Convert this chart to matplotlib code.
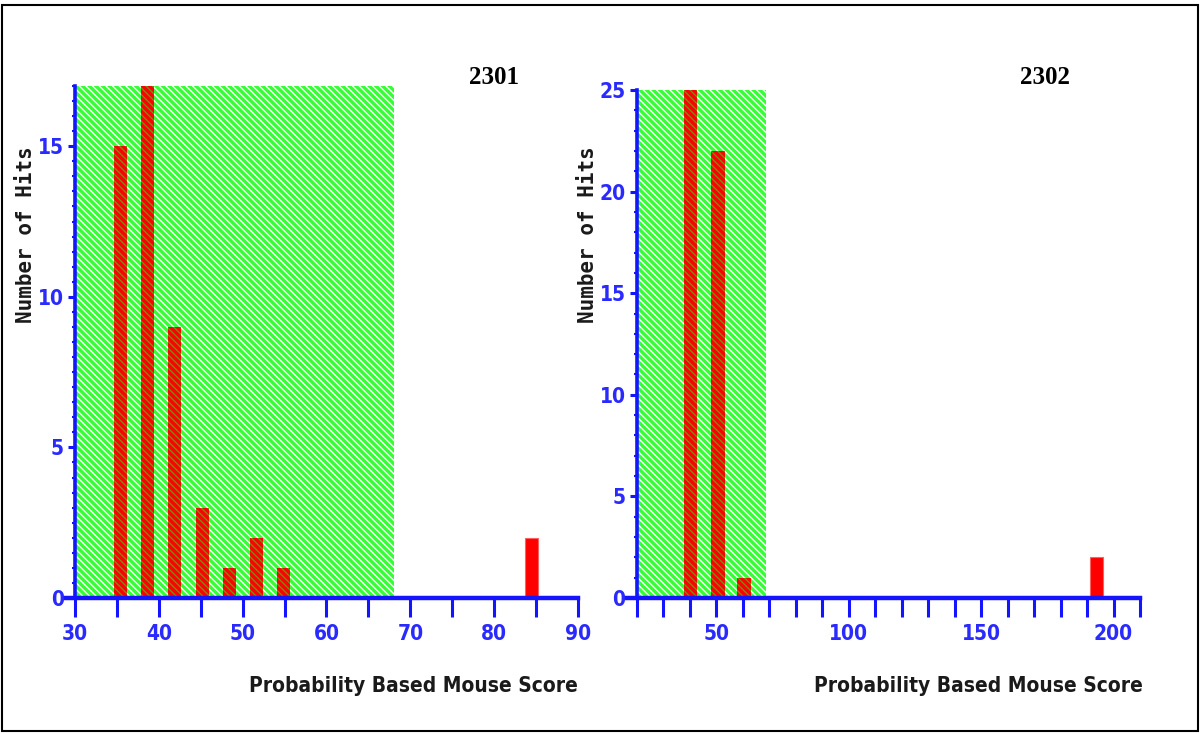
import matplotlib
matplotlib.use("Agg")
import matplotlib.pyplot as plt
from matplotlib import font_manager
from matplotlib.font_manager import FontProperties
from matplotlib.patches import Rectangle

# ---------------- data ----------------
titles = ["2301", "2302"]
x_label = "Probability Based Mouse Score"
y_label = "Number of Hits"

scores_2301 = [35.4, 38.6, 41.9, 45.2, 48.4, 51.6, 54.9, 84.4]
hits_2301 = [15, 17, 9, 3, 1, 2, 1, 2]
scores_2302 = [40.3, 50.7, 60.5, 193.6]
hits_2302 = [25, 22, 1, 2]

# shaded (non-significant) score region: start, end, height
region_2301 = [30, 68, 17]
region_2302 = [20, 69, 25]

xtick_labels_2301 = [30, 40, 50, 60, 70, 80, 90]
xtick_minor_2301 = [35, 45, 55, 65, 75, 85]
ytick_labels_2301 = [0, 5, 10, 15]
xtick_labels_2302 = [50, 100, 150, 200]
xtick_minor_2302 = [20, 30, 40, 60, 70, 80, 90, 110, 120, 130, 140, 160, 170, 180, 190, 210]
ytick_labels_2302 = [0, 5, 10, 15, 20, 25]

# ---------------- fonts ----------------
def pick_condensed():
    best = None
    for f in font_manager.fontManager.ttflist:
        name = f.name.lower()
        st = str(f.stretch).lower()
        if not ("condensed" in st or "narrow" in name or "condensed" in name):
            continue
        if f.style != "normal":
            continue
        w = f.weight
        try:
            w = int(w)
        except Exception:
            w = {"bold": 700, "normal": 400, "regular": 400}.get(str(w).lower(), 400)
        score = abs(w - 700)
        if best is None or score < best[0]:
            best = (score, f.fname)
    return best[1] if best else None

cond = pick_condensed()
if cond:
    tick_fp = FontProperties(fname=cond, size=15)
    xlab_fp = FontProperties(fname=cond, size=15)
else:
    tick_fp = FontProperties(family="DejaVu Sans", weight="bold", size=11)
    xlab_fp = FontProperties(family="DejaVu Sans", weight="bold", size=11.5)

BLUE = "#1414ff"
TICKBLUE = "#2a2aff"
GREEN = "#33ff33"
RED = "#ff0000"
HATCH = "\\\\\\\\\\"

plt.rcParams["hatch.linewidth"] = 1.0

W, H = 1201, 734
fig = plt.figure(figsize=(W / 100, H / 100), dpi=100)
fig.patch.set_facecolor("white")

ax1 = fig.add_axes([66 / W, 136 / H, (578 - 66) / W, (648 - 136) / H])
ax2 = fig.add_axes([627 / W, 136 / H, (1140 - 627) / W, (644 - 136) / H])


def draw(ax, scores, hits, region, xlim, bar_w, xmaj, xmin, ymaj, yminor_step,
         title, title_x, xlabel_right):
    x0, x1, h = region
    ax.bar([x0], [h], width=[x1 - x0], align="edge", color=GREEN,
           edgecolor="white", linewidth=0, hatch=HATCH, zorder=1)
    for s, v in zip(scores, hits):
        if x0 <= s <= x1:
            ax.bar([s], [v], width=bar_w, color=RED, edgecolor="#7a8a10",
                   linewidth=0, hatch=HATCH, zorder=2)
        else:
            ax.bar([s], [v], width=bar_w, color=RED, edgecolor="#ff6060",
                   linewidth=0.8, zorder=2)
    ax.set_xlim(*xlim)
    ax.set_ylim(0, h)
    ax.set_facecolor("none")
    for sp in ("top", "right"):
        ax.spines[sp].set_visible(False)
    ax.spines["left"].set_position(("data", x0))
    ax.spines["left"].set_color(BLUE)
    ax.spines["left"].set_linewidth(2.6)
    ax.spines["bottom"].set_color(BLUE)
    ax.spines["bottom"].set_linewidth(3.2)
    ax.spines["left"].set_zorder(3)
    ax.spines["bottom"].set_zorder(4)

    ax.set_xticks(xmaj)
    ax.set_xticklabels([str(v) for v in xmaj])
    ax.set_xticks(xmin, minor=True)
    ax.set_yticks(ymaj)
    ax.set_yticklabels([str(v) for v in ymaj])
    yminors = []
    v = 0.0
    while v <= h + 1e-9:
        if all(abs(v - m) > 1e-9 for m in ymaj):
            yminors.append(v)
        v += yminor_step
    ax.set_yticks(yminors, minor=True)

    ax.tick_params(axis="x", which="both", direction="out", length=14, width=2.2,
                   color=BLUE, pad=5, labelcolor=TICKBLUE)
    ax.tick_params(axis="y", which="major", direction="out", length=5, width=2.2,
                   color=BLUE, pad=3, labelcolor=TICKBLUE)
    ax.tick_params(axis="y", which="minor", direction="out", length=2, width=1.5,
                   color=BLUE)
    for lab in ax.get_xticklabels() + ax.get_yticklabels():
        lab.set_fontproperties(tick_fp)

    fig.text(title_x / W, 1 - 78 / H, title, ha="center", va="center",
             family="Liberation Serif", weight="bold", size=18, color="black")
    fig.text(xlabel_right / W, 1 - 686 / H, x_label, ha="right", va="center",
             fontproperties=xlab_fp, color="#1a1a1a")


draw(ax1, scores_2301, hits_2301, region_2301, (28.93, 90), 1.55,
     xtick_labels_2301, xtick_minor_2301, ytick_labels_2301, 0.5,
     titles[0], 494, 578)
draw(ax2, scores_2302, hits_2302, region_2302, (16.34, 210), 5.0,
     xtick_labels_2302, xtick_minor_2302, ytick_labels_2302, 1.0,
     titles[1], 1045, 1143)

for xc in (26, 588):
    fig.text(xc / W, 1 - 235 / H, y_label, rotation=90, ha="center", va="center",
             family="DejaVu Sans Mono", weight="bold", size=15, color="#1a1a1a")

fig.patches.append(Rectangle((2 / W, 3 / H), 1196 / W, 726 / H, transform=fig.transFigure,
                             fill=False, linewidth=1.5, edgecolor="black"))

fig.savefig("out.png", dpi=100)
